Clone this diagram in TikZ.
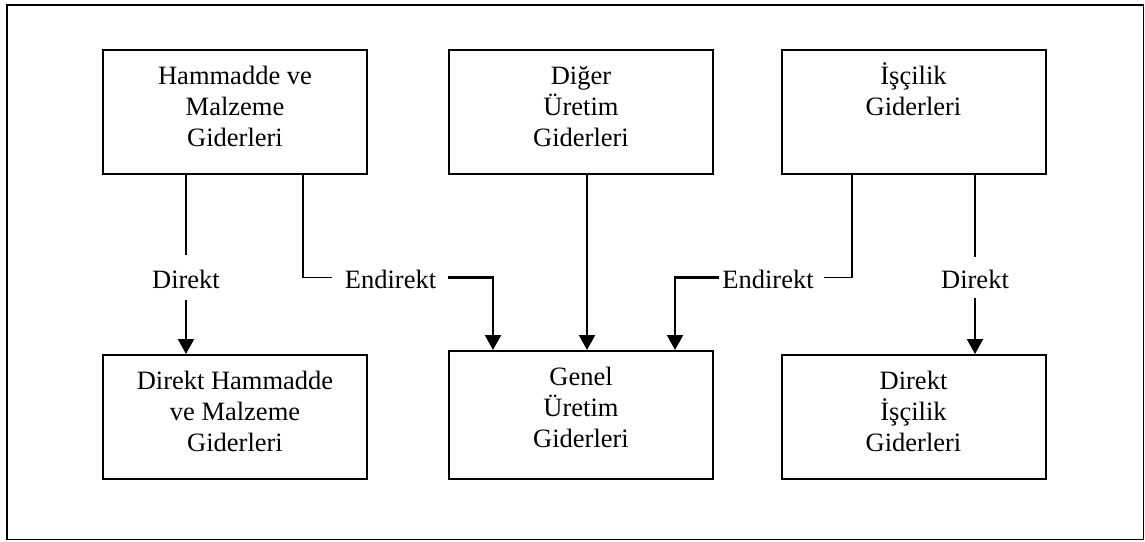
\documentclass[tikz,border=0pt]{standalone}
\usepackage{fontspec}
\setmainfont{Liberation Serif}
\usetikzlibrary{arrows.meta}
\newcommand\firstline{\rule{0pt}{23pt}}
\tikzset{
  boxnode/.style={draw, line width=2pt, rectangle, minimum width=264pt, minimum height=124pt, inner sep=0pt},
  boxtext/.style={anchor=north, inner sep=0pt, align=center, font=\fontsize{26.5pt}{31pt}\selectfont},
  lbl/.style={anchor=base, inner sep=0pt, font=\fontsize{26.5pt}{31pt}\selectfont},
  ln/.style={line width=1.6pt},
  arr/.style={line width=2.2pt, -{Triangle[width=16pt,length=15pt]}}
}
\begin{document}
\begin{tikzpicture}[x=1pt,y=-1pt]
\useasboundingbox (0,0) rectangle (1145,541);
\draw[line width=1.5pt] (7,5) rectangle (1143.5,539.5);

% upper row
\node[boxnode] (hm) at (235,112) {};
\node[boxnode] (du) at (581,112) {};
\node[boxnode] (is) at (913.5,112) {};
% lower row
\node[boxnode] (dh) at (235,417) {};
\node[boxnode, minimum height=128pt] (gu) at (581,415) {};
\node[boxnode] (di) at (913.5,417) {};

% box texts
\node[boxtext] (thm) at ([yshift=-12pt]hm.north) {\firstline Hammadde ve\\Malzeme\\Giderleri};
\node[boxtext] (tdu) at ([yshift=-12pt]du.north) {\firstline Diğer\\Üretim\\Giderleri};
\node[boxtext] (tis) at ([yshift=-12pt]is.north) {\firstline İşçilik\\Giderleri};
\node[boxtext] (tdh) at ([yshift=-12pt]dh.north) {\firstline Direkt Hammadde\\ve Malzeme\\Giderleri};
\node[boxtext] (tgu) at ([yshift=-12pt]gu.north) {\firstline Genel\\Üretim\\Giderleri};
\node[boxtext] (tdi) at ([yshift=-12pt]di.north) {\firstline Direkt\\İşçilik\\Giderleri};

% connector labels
\node[lbl] (lD) at (186,288) {Direkt};
\node[lbl] (lE) at (390.5,288) {Endirekt};
\node[lbl] (rE) at (768,288) {Endirekt};
\node[lbl] (rD) at (975,288) {Direkt};

% direct raw material
\draw[ln] (hm.south -| lD) -- ([yshift=33pt]lD.base);
\draw[arr] ([yshift=-12pt]lD.base) -- (lD |- dh.north);
% indirect raw material
\draw[ln] ([xshift=68pt]hm.south) |- ([xshift=-13pt,yshift=1.5pt]lE.west);
\draw[arr] ([xshift=12pt,yshift=1.5pt]lE.east) -| ([xshift=-88pt]gu.north);
% other production costs
\draw[arr] ([xshift=6pt]du.south) -- ([xshift=6pt]gu.north);
% indirect labour
\draw[ln] ([xshift=-61.5pt]is.south) |- ([xshift=10pt,yshift=1.5pt]rE.east);
\draw[arr] ([xshift=-3pt,yshift=1.5pt]rE.west) -| ([xshift=94pt]gu.north);
% direct labour
\draw[ln] (is.south -| rD) -- ([yshift=31pt]rD.base);
\draw[arr] ([yshift=-10pt]rD.base) -- (rD |- di.north);
\end{tikzpicture}
\end{document}
